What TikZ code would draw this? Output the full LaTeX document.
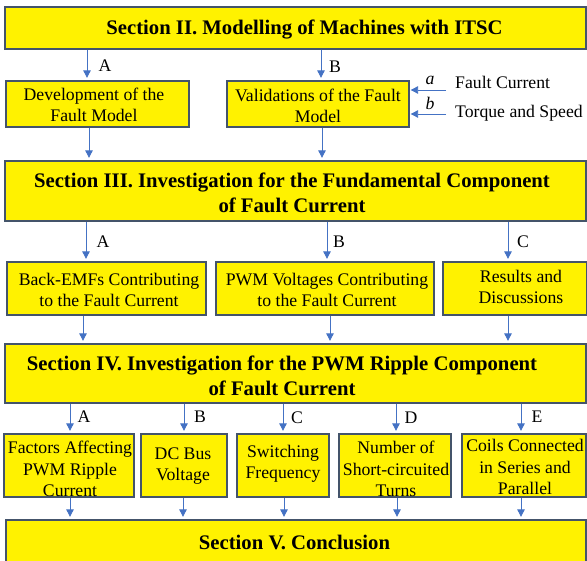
\documentclass[tikz,border=0pt]{standalone}
\usepackage{fontspec}
\setmainfont{Liberation Serif}
\usetikzlibrary{arrows.meta}
\definecolor{boxline}{RGB}{68,84,106}
\definecolor{arrblue}{RGB}{68,114,196}
\tikzset{
  box/.style={draw=boxline, line width=1.3pt, fill=yellow, inner sep=0pt},
  sectxt/.style={font=\fontsize{20.7}{25}\selectfont\bfseries, align=center, inner sep=0pt},
  txt/.style={font=\fontsize{17.7}{21.5}\selectfont, align=center, inner sep=0pt},
  lab/.style={font=\fontsize{17.7}{21.5}\selectfont, inner sep=0pt},
  arr/.style={draw=arrblue, line width=0.9pt, -{Triangle[width=7.5pt,length=7.5pt]}, shorten >=2.5pt},
}
\begin{document}
\begin{tikzpicture}[x=1pt,y=-1pt]
\useasboundingbox (0,0) rectangle (587,561);
\clip (0,0) rectangle (587,561);

% ---- boxes ----
\node[box, minimum width=581pt, minimum height=42pt] (s2) at (295.5,28) {};
\node[box, minimum width=183pt, minimum height=46pt] (dev) at (97.5,104) {};
\node[box, minimum width=182pt, minimum height=46pt] (val) at (318,104) {};
\node[box, minimum width=581pt, minimum height=60pt] (s3) at (295.5,191) {};
\node[box, minimum width=199pt, minimum height=53pt] (back) at (106.5,288.5) {};
\node[box, minimum width=218pt, minimum height=53pt] (pwm) at (325,288.5) {};
\node[box, minimum width=144pt, minimum height=53pt] (res) at (515,288.5) {};
\node[box, minimum width=581pt, minimum height=59pt] (s4) at (295.5,373.5) {};
\node[box, minimum width=130pt, minimum height=63pt] (fac) at (69,465.5) {};
\node[box, minimum width=86pt, minimum height=63pt] (dc) at (184,465.5) {};
\node[box, minimum width=92pt, minimum height=63pt] (sw) at (283,465.5) {};
\node[box, minimum width=112pt, minimum height=63pt] (num) at (395,465.5) {};
\node[box, minimum width=124pt, minimum height=63pt] (coil) at (524,465.5) {};
\node[box, minimum width=580pt, minimum height=50pt] (s5) at (296,545) {};

% ---- texts ----
\node[sectxt] (s2t) at (304.5,30) {Section II. Modelling of Machines with ITSC};
\node[txt] (devt) at (94,105) {Development of the\\Fault Model};
\node[txt] (valt) at (318,106) {Validations of the Fault\\Model};
\node[sectxt] (s3t) at (292,193) {Section III. Investigation for the Fundamental Component\\of Fault Current};
\node[txt] (backt) at (109,290) {Back-EMFs Contributing\\to the Fault Current};
\node[txt] (pwmt) at (327,290) {PWM Voltages Contributing\\to the Fault Current};
\node[txt] (rest) at (521,287) {Results and\\Discussions};
\node[sectxt] (s4t) at (282,376) {Section IV. Investigation for the PWM Ripple Component\\of Fault Current};
\node[txt] (fact) at (70,469) {Factors Affecting\\PWM Ripple\\Current};
\node[txt] (dct) at (183,466) {DC Bus\\Voltage};
\node[txt] (swt) at (283,464) {Switching\\Frequency};
\node[txt] (numt) at (396,469) {Number of\\Short-circuited\\Turns};
\node[txt] (coilt) at (525,467) {Coils Connected\\in Series and\\Parallel};
\node[sectxt] (s5t) at (294.5,542) {Section V. Conclusion};

% ---- side inputs ----
\coordinate (fa) at (446,90);
\coordinate (fb) at (446,114);
\node[lab, font=\fontsize{17.7}{21.5}\selectfont\itshape] (la) at (430,80) {a};
\node[lab, font=\fontsize{17.7}{21.5}\selectfont\itshape] (lb) at (430,103) {b};
\node[lab, anchor=base west] (fct) at (455,89) {Fault Current};
\node[lab, anchor=base west] (tst) at (455,118) {Torque and Speed};
\draw[arr, shorten >=1pt] (fa) -- (fa -| val.east);
\draw[arr, shorten >=1pt] (fb) -- (fb -| val.east);

% ---- arrows: section II ----
\draw[arr] (87,0 |- s2.south) -- (87,0 |- dev.north);
\draw[arr] (321,0 |- s2.south) -- (321,0 |- val.north);
\node[lab] (l2a) at (105,66) {A};
\node[lab] (l2b) at (335,67) {B};
\draw[arr] (89,0 |- dev.south) -- (89,0 |- s3.north);
\draw[arr] (322,0 |- val.south) -- (322,0 |- s3.north);

% ---- arrows: section III ----
\draw[arr] (86,0 |- s3.south) -- (86,0 |- back.north);
\draw[arr] (327,0 |- s3.south) -- (327,0 |- pwm.north);
\draw[arr] (508,0 |- s3.south) -- (508,0 |- res.north);
\node[lab] (l3a) at (103,242) {A};
\node[lab] (l3b) at (339,242) {B};
\node[lab] (l3c) at (523,242) {C};
\draw[arr] (83,0 |- back.south) -- (83,0 |- s4.north);
\draw[arr] (330,0 |- pwm.south) -- (330,0 |- s4.north);
\draw[arr] (508,0 |- res.south) -- (508,0 |- s4.north);

% ---- arrows: section IV ----
\draw[arr] (70,0 |- s4.south) -- (70,0 |- fac.north);
\draw[arr] (184,0 |- s4.south) -- (184,0 |- dc.north);
\draw[arr] (283,0 |- s4.south) -- (283,0 |- sw.north);
\draw[arr] (396,0 |- s4.south) -- (396,0 |- num.north);
\draw[arr] (521,0 |- s4.south) -- (521,0 |- coil.north);
\node[lab] (l4a) at (84,417) {A};
\node[lab] (l4b) at (200,417) {B};
\node[lab] (l4c) at (297,418) {C};
\node[lab] (l4d) at (411,418) {D};
\node[lab] (l4e) at (537,417) {E};
\draw[arr] (70,0 |- fac.south) -- (70,0 |- s5.north);
\draw[arr] (183,0 |- dc.south) -- (183,0 |- s5.north);
\draw[arr] (284,0 |- sw.south) -- (284,0 |- s5.north);
\draw[arr] (397,0 |- num.south) -- (397,0 |- s5.north);
\draw[arr] (521,0 |- coil.south) -- (521,0 |- s5.north);
\end{tikzpicture}
\end{document}
